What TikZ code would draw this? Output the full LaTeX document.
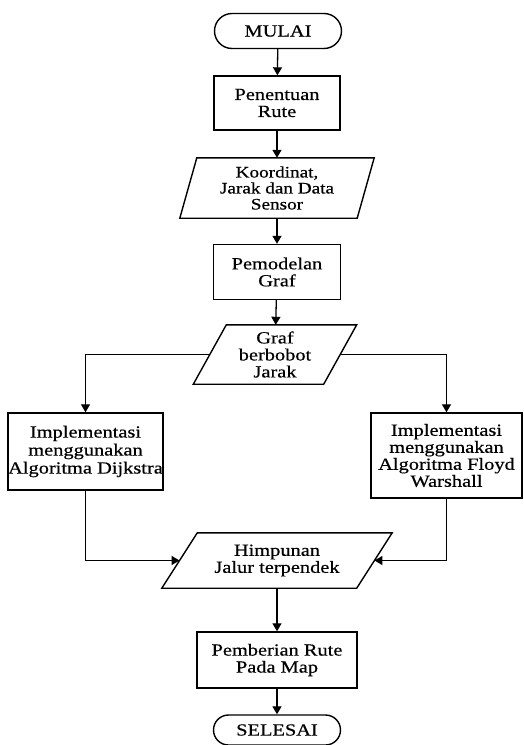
\documentclass[tikz,border=0pt]{standalone}
\usepackage{fontspec}
\setmainfont[FakeStretch=1.2, FakeBold=0.5]{Liberation Serif}
\usetikzlibrary{shapes.misc,arrows.meta}

% slanted outline round a data node: #1 node name, #2 slant
\newcommand{\dataframe}[2]{%
  \draw[frame] ([xshift=#2/2]#1.north west) -- ([xshift=#2/2]#1.north east)
    -- ([xshift=-#2/2]#1.south east) -- ([xshift=-#2/2]#1.south west) -- cycle;}

\begin{document}
\begin{tikzpicture}[
    x=1pt, y=-1pt,
    frame/.style={draw, line width=1.4pt},
    txt/.style={font=\fontsize{17}{17}\selectfont, align=center, inner sep=0pt},
    terminal/.style={txt, frame, rounded rectangle, minimum width=127pt},
    process/.style={txt, frame, rectangle},
    data/.style={txt, rectangle},
    flow/.style={line width=1.3pt, -{Triangle[length=8pt, width=9pt]}},
]

\useasboundingbox (0,0) rectangle (523,745);

% Main column
\node[terminal, minimum height=35pt] (mulai) at (278,31) {MULAI};
\node[process, minimum width=126pt, minimum height=54pt] (rute) at (277,103) {Penentuan\\Rute};
\node[data, minimum width=177pt, minimum height=60pt, font=\fontsize{16}{16}\selectfont] (koord) at (277,188) {Koordinat,\\Jarak dan Data\\Sensor};
\node[process, minimum width=127pt, minimum height=55pt] (model) at (277,272) {Pemodelan\\Graf};
\node[data, minimum width=130pt, minimum height=59pt] (graf) at (275,354.5) {Graf\\berbobot\\Jarak};

% Two algorithms
\node[process, minimum width=155pt, minimum height=77pt, font=\fontsize{17}{18}\selectfont] (dijkstra) at (85.5,451.5) {Implementasi\\menggunakan\\Algoritma Dijkstra};
\node[process, minimum width=151pt, minimum height=85pt] (floyd) at (446.5,455.5) {Implementasi\\menggunakan\\Algoritma Floyd\\Warshall};

% Result
\node[data, minimum width=194.5pt, minimum height=55pt] (himpunan) at (277,560.5) {Himpunan\\Jalur terpendek};
\node[process, minimum width=160pt, minimum height=56pt] (peta) at (277,660) {Pemberian Rute\\Pada Map};
\node[terminal, minimum height=30pt] (selesai) at (277,730) {SELESAI};

% Data outlines
\dataframe{koord}{17}
\dataframe{graf}{33}
\dataframe{himpunan}{35.5}

% Connectors
\draw[flow] (mulai) -- (rute);
\draw[flow] (rute) -- (koord);
\draw[flow] (koord) -- (model);
\draw[flow] (model) -- (graf);
\draw[flow] (graf.west) -| (dijkstra.north);
\draw[flow] (graf.east) -| (floyd.north);
\draw[flow] (dijkstra.south) |- (himpunan.west);
\draw[flow] (floyd.south) |- (himpunan.east);
\draw[flow] (himpunan) -- (peta);
\draw[flow] (peta) -- (selesai);

\end{tikzpicture}
\end{document}
